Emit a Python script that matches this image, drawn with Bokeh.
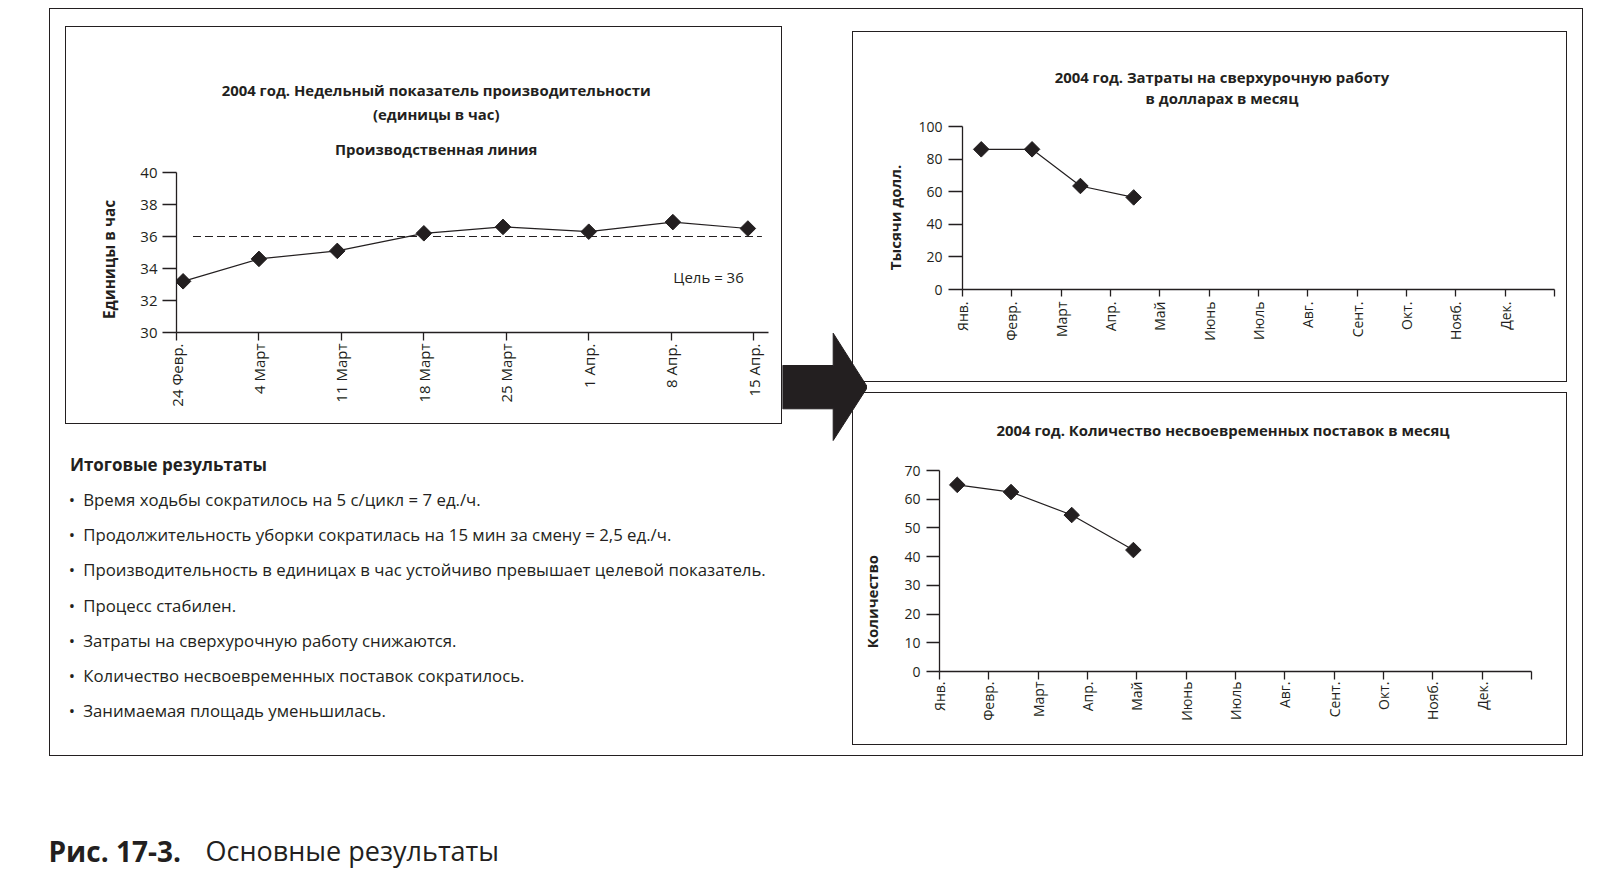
import math
from bokeh.plotting import figure
from bokeh.models import Range1d, FixedTicker, Label, ColumnDataSource, Spacer
from bokeh.layouts import row, column
from bokeh.core.properties import value
from bokeh.embed import file_html
from bokeh.resources import INLINE

INK = "#231f20"
FONT = "Open Sans"

# ---------------- data ----------------
# chart 1: weekly productivity (units per hour)
weeks = ["24 Февр.", "4 Март", "11 Март", "18 Март", "25 Март", "1 Апр.", "8 Апр.", "15 Апр."]
week_pos = [0.08, 1, 1.95, 3, 3.96, 5, 6.02, 6.93]
units_per_hour = [33.2, 34.6, 35.1, 36.2, 36.6, 36.3, 36.9, 36.5]
target = 36
prod_yticks = [30, 32, 34, 36, 38, 40]

# chart 2 and 3: monthly
months = ["Янв.", "Февр.", "Март", "Апр.", "Май", "Июнь", "Июль", "Авг.", "Сент.", "Окт.", "Нояб.", "Дек."]
overtime_pos = [0.38, 1.41, 2.39, 3.47]
overtime_k = [86, 86, 63.5, 56.5]
overtime_yticks = [0, 20, 40, 60, 80, 100]
late_pos = [0.36, 1.45, 2.68, 3.93]
late_count = [65, 62.5, 54.5, 42.3]
late_yticks = [0, 10, 20, 30, 40, 50, 60, 70]

title1 = ["2004 год. Недельный показатель производительности", "(единицы в час)"]
subtitle1 = "Производственная линия"
ylabel1 = "Единицы в час"
title2 = ["2004 год. Затраты на сверхурочную работу", "в долларах в месяц"]
ylabel2 = "Тысячи долл."
title3 = "2004 год. Количество несвоевременных поставок в месяц"
ylabel3 = "Количество"

summary_title = "Итоговые результаты"
summary_items = [
    "Время ходьбы сократилось на 5 с/цикл = 7 ед./ч.",
    "Продолжительность уборки сократилась на 15 мин за смену = 2,5 ед./ч.",
    "Производительность в единицах в час устойчиво превышает целевой показатель.",
    "Процесс стабилен.",
    "Затраты на сверхурочную работу снижаются.",
    "Количество несвоевременных поставок сократилось.",
    "Занимаемая площадь уменьшилась.",
]
caption_num = "Рис. 17-3."
caption_text = "Основные результаты"

BOX = {"outline": "1.5px solid #231f20", "outline-offset": "-1.5px"}
TITLE_SIZE = "14.9px"


def base_fig(**kw):
    p = figure(output_backend="svg", toolbar_location=None,
               background_fill_color=None, border_fill_color=None,
               outline_line_color=None, **kw)
    p.xgrid.visible = False
    p.ygrid.visible = False
    return p


def text_fig(w, h, flip=True, left=0, right=0):
    # data coordinates == canvas pixels (frame may be aligned with a sibling chart)
    yr = Range1d(h, 0) if flip else Range1d(0, h)
    return base_fig(width=w, height=h, x_range=Range1d(left, w - right), y_range=yr,
                    min_border=0, min_border_left=left, min_border_right=right,
                    x_axis_type=None, y_axis_type=None)


def put(p, x, y, text, size=TITLE_SIZE, bold=True, align="center", angle=0.0):
    p.text(x=[x], y=[y], text=[text], angle=angle, text_font=value(FONT),
           text_font_style="bold" if bold else "normal", text_font_size=size,
           text_color=INK, text_align=align, text_baseline="middle")


def style_axes(p, xticks, xlabels, yticks, fs, xout, yout, xstand, ystand):
    xa = p.xaxis[0]
    ya = p.yaxis[0]
    xa.ticker = FixedTicker(ticks=xticks)
    xa.major_label_overrides = {int(t): l for t, l in zip(xticks, xlabels)}
    ya.ticker = FixedTicker(ticks=yticks)
    for a in (xa, ya):
        a.axis_line_color = INK
        a.axis_line_width = 1.3
        a.major_tick_line_color = INK
        a.major_tick_line_width = 1.3
        a.minor_tick_line_color = None
        a.major_tick_in = 0
        a.major_label_text_font = FONT
        a.major_label_text_font_size = fs
        a.major_label_text_color = INK
    xa.major_tick_out = xout
    ya.major_tick_out = yout
    xa.major_label_orientation = math.pi / 2
    xa.major_label_standoff = xstand
    ya.major_label_standoff = ystand


def series(p, xs, ys):
    src = ColumnDataSource(dict(x=xs, y=ys))
    p.line("x", "y", source=src, line_color=INK, line_width=1.2)
    p.scatter("x", "y", source=src, marker="square", angle=math.pi / 4, size=11,
              fill_color=INK, line_color=INK)


# ---------------- panel 1: productivity ----------------
yl1 = text_fig(60, 398, flip=False)
put(yl1, 43, 398 - 233, ylabel1, size="15.3px", angle=math.pi / 2)
tt1 = text_fig(657, 136, left=51, right=14)
put(tt1, 310.7, 63.8, title1[0])
put(tt1, 310.7, 87.3, title1[1])
put(tt1, 310.7, 122, subtitle1)
p1 = base_fig(width=657, height=262, x_range=Range1d(0, 7.18), y_range=Range1d(30, 40),
              min_border_left=51, min_border_right=14, min_border_top=10, min_border_bottom=92)
style_axes(p1, list(range(len(weeks))), weeks, prod_yticks, "15px", 8, 14, 3, 5)
p1.segment(x0=0.2, y0=target, x1=7.1, y1=target, line_color=INK, line_width=1, line_dash="8 4")
series(p1, week_pos, units_per_hour)
p1.add_layout(Label(x=6.88, y=33.5, text="Цель = " + str(target), text_align="right",
                    text_baseline="middle", text_font=FONT, text_font_size="15px",
                    text_color=INK))
panel1 = row(yl1, column(tt1, p1), styles=BOX)

# ---------------- panel 2: overtime ----------------
yl2 = text_fig(60, 351, flip=False)
put(yl2, 42, 351 - 186, ylabel2, size="15px", angle=math.pi / 2)
tt2 = text_fig(655, 85, left=50, right=13)
put(tt2, 309.5, 45.5, title2[0])
put(tt2, 309.5, 66, title2[1])
p2 = base_fig(width=655, height=266, x_range=Range1d(0, 12), y_range=Range1d(0, 100),
              min_border_left=50, min_border_right=13, min_border_top=10, min_border_bottom=93)
style_axes(p2, list(range(13)), months + [""], overtime_yticks, "14px", 7, 14, 5, 6)
series(p2, overtime_pos, overtime_k)
panel2 = row(yl2, column(tt2, p2), styles=BOX)

# ---------------- panel 3: late deliveries ----------------
yl3 = text_fig(40, 353, flip=False)
put(yl3, 19.5, 353 - 209, ylabel3, size="15px", angle=math.pi / 2)
tt3 = text_fig(675, 68, left=47, right=36)
put(tt3, 330.5, 37.6, title3)
p3 = base_fig(width=675, height=285, x_range=Range1d(0, 12), y_range=Range1d(0, 70),
              min_border_left=47, min_border_right=36, min_border_top=10, min_border_bottom=74)
style_axes(p3, list(range(13)), months + [""], late_yticks, "14px", 8, 13, 2, 6)
series(p3, late_pos, late_count)
panel3 = row(yl3, column(tt3, p3), styles=BOX)

# ---------------- summary text ----------------
TW, TH = 733, 332
pt = text_fig(TW, TH)
put(pt, 20.4, 40.3, summary_title, size="17px", align="left")
item_y = [75 + 35.2 * i for i in range(len(summary_items))]
srct = ColumnDataSource(dict(y=item_y, t=summary_items, b=["•"] * len(summary_items)))
pt.text(x=22.4, y="y", text="b", source=srct, text_font=value(FONT), text_font_size="16.8px",
        text_color=INK, text_baseline="middle", text_align="center")
pt.text(x=33.7, y="y", text="t", source=srct, text_font=value(FONT), text_font_size="16.8px",
        text_color=INK, text_baseline="middle", text_align="left")

# ---------------- arrow ----------------
AW, AH = 85, 748
arrow_x = [0, 50.7, 50.7, 85, 50.7, 50.7, 0]
arrow_y = [357, 357, 324.7, 378.7, 432, 400.3, 400.3]
pa = base_fig(width=AW, height=AH, x_range=Range1d(0, AW), y_range=Range1d(AH, 0),
              min_border=0, x_axis_type=None, y_axis_type=None, margin=(0, -15, 0, 0),
              styles={"z-index": "5", "position": "relative"})
pa.patch(arrow_x, arrow_y, fill_color=INK, line_color=INK)

# ---------------- caption ----------------
CW, CH = 1590, 114
pc = text_fig(CW, CH)
put(pc, 48, 94, caption_num, size="28px", align="left")
put(pc, 205, 94, caption_text, size="27px", bold=False, align="left")

# ---------------- layout ----------------
left_col = column(Spacer(width=733, height=18), row(Spacer(width=16, height=398), panel1), pt)
right_col = column(Spacer(width=715, height=23), panel2, Spacer(width=715, height=10), panel3,
                   Spacer(width=715, height=11))
outer = row(left_col, pa, right_col, Spacer(width=16, height=748), styles=BOX)
page = column(Spacer(width=1590, height=8), row(Spacer(width=49, height=748), outer), pc)

open("out.html", "w").write(file_html(page, INLINE, title="Основные результаты"))
